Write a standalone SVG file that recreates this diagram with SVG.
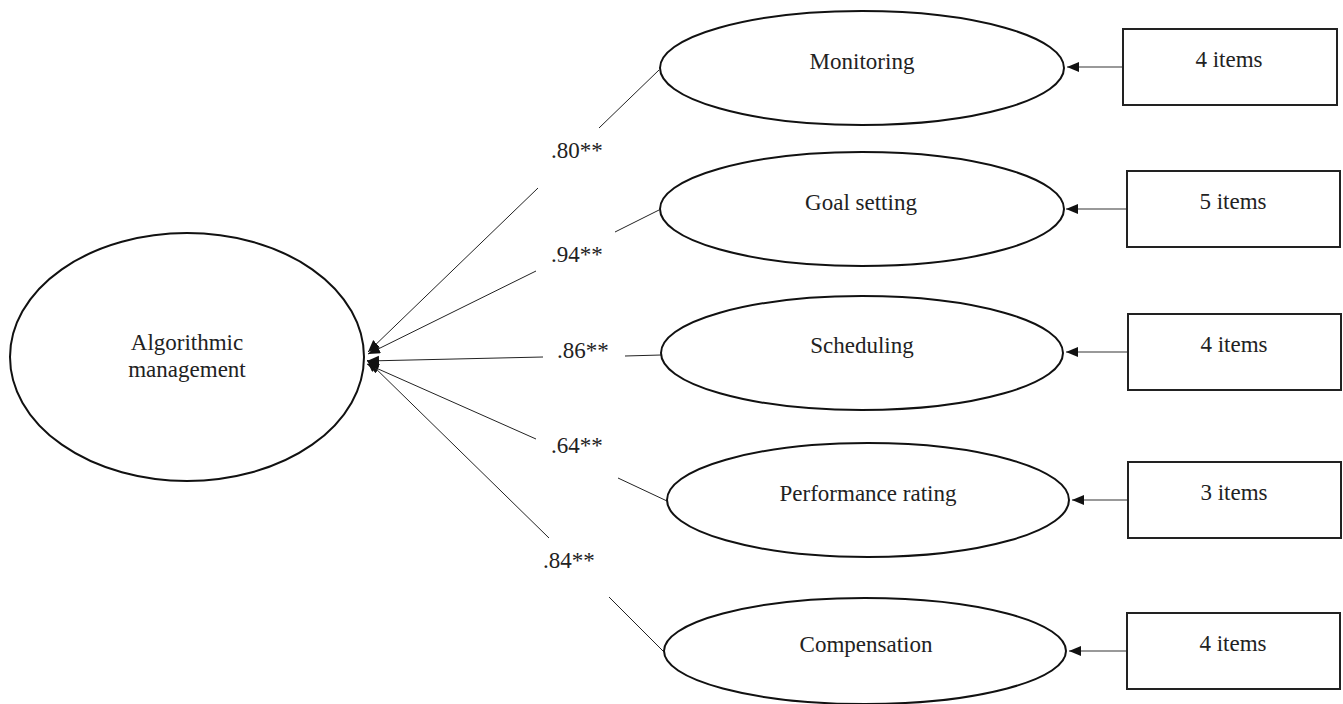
<svg xmlns="http://www.w3.org/2000/svg" width="1343" height="704" viewBox="0 0 1343 704">
<defs>
<marker id="ah" markerUnits="userSpaceOnUse" markerWidth="13" markerHeight="11" refX="12" refY="5" orient="auto">
<path d="M0,0 L12,5 L0,10 z" fill="#111"/>
</marker>
<style>
.ell{fill:#fff;stroke:#111;stroke-width:2}
.box{fill:#fff;stroke:#222;stroke-width:2}
.t{font-family:"Liberation Serif","Times New Roman",serif;font-size:23px;fill:#222;text-anchor:middle}
.lbl{font-family:"Liberation Serif","Times New Roman",serif;font-size:23px;fill:#222}
.ln{stroke:#222;stroke-width:1;fill:none}
.ar{stroke:#777;stroke-width:1.3;fill:none}
</style>
</defs>
<rect width="1343" height="704" fill="#fff"/>

<g id="connectors">
<!-- Monitoring -->
<line class="ln" x1="659" y1="70" x2="599" y2="128"/>
<line class="ln" x1="538" y1="188" x2="368" y2="352" marker-end="url(#ah)"/>
<!-- Goal setting -->
<line class="ln" x1="659" y1="210" x2="615" y2="232"/>
<line class="ln" x1="536" y1="271" x2="368" y2="354" marker-end="url(#ah)"/>
<!-- Scheduling -->
<line class="ln" x1="661" y1="355" x2="625" y2="356"/>
<line class="ln" x1="543" y1="357" x2="367" y2="361" marker-end="url(#ah)"/>
<!-- Performance rating -->
<line class="ln" x1="667" y1="501" x2="618" y2="478"/>
<line class="ln" x1="536" y1="439" x2="367" y2="364" marker-end="url(#ah)"/>
<!-- Compensation -->
<line class="ln" x1="664" y1="652" x2="609" y2="597"/>
<line class="ln" x1="549" y1="538" x2="367" y2="360" marker-end="url(#ah)"/>

<!-- item arrows -->
<line class="ar" x1="1123" y1="67" x2="1067" y2="67" marker-end="url(#ah)"/>
<line class="ar" x1="1127" y1="209" x2="1066" y2="209" marker-end="url(#ah)"/>
<line class="ar" x1="1127" y1="352" x2="1066" y2="352" marker-end="url(#ah)"/>
<line class="ar" x1="1127" y1="500" x2="1072" y2="500" marker-end="url(#ah)"/>
<line class="ar" x1="1127" y1="651" x2="1069" y2="651" marker-end="url(#ah)"/>

<text class="lbl" x="551" y="158">.80**</text>
<text class="lbl" x="551" y="262">.94**</text>
<text class="lbl" x="557" y="358">.86**</text>
<text class="lbl" x="551" y="453">.64**</text>
<text class="lbl" x="543" y="568">.84**</text>
</g>

<g id="algorithmic-management">
<ellipse class="ell" cx="187" cy="357" rx="177" ry="124"/>
<text class="t" x="187" y="350">Algorithmic</text>
<text class="t" x="187" y="377">management</text>
</g>

<g id="monitoring">
<ellipse class="ell" cx="862" cy="68" rx="202" ry="57"/>
<text class="t" x="862" y="69">Monitoring</text>
</g>
<g id="goal-setting">
<ellipse class="ell" cx="862" cy="209" rx="202" ry="57"/>
<text class="t" x="861" y="210">Goal setting</text>
</g>
<g id="scheduling">
<ellipse class="ell" cx="862" cy="353" rx="201" ry="57"/>
<text class="t" x="862" y="353">Scheduling</text>
</g>
<g id="performance-rating">
<ellipse class="ell" cx="868" cy="500" rx="201" ry="57"/>
<text class="t" x="868" y="501">Performance rating</text>
</g>
<g id="compensation">
<ellipse class="ell" cx="865" cy="651" rx="201" ry="53"/>
<text class="t" x="866" y="652">Compensation</text>
</g>

<g id="items-monitoring">
<rect class="box" x="1123" y="29" width="214" height="76"/>
<text class="t" x="1229" y="67">4 items</text>
</g>
<g id="items-goal-setting">
<rect class="box" x="1127" y="171" width="213" height="76"/>
<text class="t" x="1233" y="209">5 items</text>
</g>
<g id="items-scheduling">
<rect class="box" x="1128" y="314" width="213" height="76"/>
<text class="t" x="1234" y="352">4 items</text>
</g>
<g id="items-performance-rating">
<rect class="box" x="1128" y="462" width="213" height="76"/>
<text class="t" x="1234" y="500">3 items</text>
</g>
<g id="items-compensation">
<rect class="box" x="1127" y="613" width="213" height="76"/>
<text class="t" x="1233" y="651">4 items</text>
</g>
</svg>
